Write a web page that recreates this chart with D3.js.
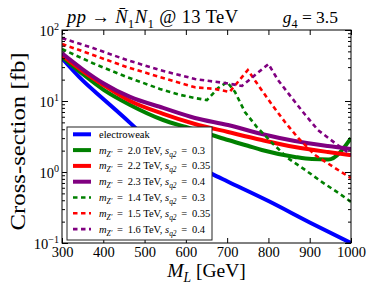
<!DOCTYPE html>
<html>
<head>
<meta charset="utf-8">
<script src="https://cdn.jsdelivr.net/npm/d3@7"></script>
<style>
body { margin: 0; background: #fff; }
svg text { font-family: "Liberation Serif", "DejaVu Serif", serif; fill: #000; }
</style>
</head>
<body>
<div id="chart"></div>
<script>
// cross-section [fb] vs M_L [GeV]
var electroweak = [[300,40],[350,19.5],[400,10.7],[450,5.9],[500,3.25],[550,2.15],[600,1.46],[663,0.94],[700,0.74],[800,0.39],[900,0.195],[1000,0.1]];
var green2000 = [[300,42],[350,24],[400,14.5],[465,8.8],[545,5.4],[600,4.3],[663,3.32],[702,2.82],[750,2.34],[784,2.04],[864,1.63],[905,1.52],[945,1.5],[1000,3.0]];
var red2200 = [[300,44],[350,26.3],[400,16.8],[465,10],[545,6.6],[622,4.75],[702,3.66],[784,2.82],[864,2.25],[944,1.91],[1000,1.73]];
var purple2300 = [[300,47],[350,28],[400,17.8],[465,11.4],[545,8.0],[622,5.77],[702,4.59],[784,3.43],[864,2.73],[944,2.32],[1000,2.11]];
var green1400 = [[300,54],[375,34],[457,21.8],[537,14.8],[586,12.2],[622,11.0],[651,10.3],[678,15.2],[700,18.5],[719,13.4],[743,7.0],[772,4.3],[809,2.56],[847,1.57],[889,1.07],[930,0.72],[969,0.51],[1000,0.38]];
var red1500 = [[300,63.5],[375,44.5],[457,30],[537,21.8],[622,15.6],[670,14.8],[706,13.4],[750,27.3],[775,16.8],[809,8.8],[840,5.06],[872,3.01],[913,1.73],[961,1.14],[1000,0.82]];
var purple1600 = [[300,77],[375,55.7],[457,37.8],[537,27.3],[622,20.4],[658,19.1],[695,17.9],[736,16.3],[800,33.2],[823,19.8],[857,11.0],[889,6.4],[920,3.9],[961,2.56],[1000,1.75]];

var mZ = ["2.0", "2.2", "2.3", "1.4", "1.5", "1.6"];
var sq2 = ["0.3", "0.35", "0.4", "0.3", "0.35", "0.4"];
var xTicks = [300, 400, 500, 600, 700, 800, 900, 1000];
var yDecades = [-1, 0, 1, 2];

var series = [
    {data: electroweak, color: "#0000ff", dash: null},
    {data: green2000, color: "#008000", dash: null},
    {data: red2200, color: "#ff0000", dash: null},
    {data: purple2300, color: "#800080", dash: null},
    {data: green1400, color: "#008000", dash: "4.5,3.5"},
    {data: red1500, color: "#ff0000", dash: "4.5,3.5"},
    {data: purple1600, color: "#800080", dash: "4.5,3.5"}
];

var W = 390, H = 293;
var pLeft = 62, pRight = 351, pTop = 30, pBottom = 243;

var svg = d3.select("#chart").append("svg").attr("width", W).attr("height", H);

var x = d3.scaleLinear().domain([300, 1000]).range([pLeft, pRight]);
var y = d3.scaleLog().domain([0.1, 100]).range([pBottom, pTop]);

svg.append("clipPath").attr("id", "plotclip")
    .append("rect").attr("x", pLeft).attr("y", pTop)
    .attr("width", pRight - pLeft).attr("height", pBottom - pTop);

// put math-ish text together out of runs
function addRuns(t, runs, fs) {
    var shift = 0;
    runs.forEach(function(r) {
        var ts = t.append("tspan").text(r.t);
        var target = r.sub ? fs * 0.28 : (r.sup ? -fs * 0.42 : 0);
        ts.attr("dy", target - shift);
        shift = target;
        if (r.sub || r.sup) ts.attr("font-size", fs * 0.7);
        if (r.it) ts.attr("font-style", "italic");
    });
}

// curves
var line = d3.line()
    .x(function(d) { return x(d[0]); })
    .y(function(d) { return y(d[1]); });

var lines = svg.append("g").attr("clip-path", "url(#plotclip)");
series.forEach(function(s) {
    lines.append("path")
        .datum(s.data)
        .attr("fill", "none")
        .attr("stroke", s.color)
        .attr("stroke-width", s.dash ? 2.6 : 4)
        .attr("stroke-dasharray", s.dash)
        .attr("d", line.curve(s.dash ? d3.curveLinear : d3.curveMonotoneX));
});

// ticks (inward, all four sides)
var minorVals = [];
[-1, 0, 1].forEach(function(k) {
    for (var m = 1; m < 10; m++) minorVals.push(m * Math.pow(10, k));
});
minorVals.push(100);
function isMajor(v) { return Math.abs(Math.log10(v) - Math.round(Math.log10(v))) < 1e-9; }

svg.append("g").attr("transform", "translate(0," + pBottom + ")")
    .call(d3.axisBottom(x).tickValues(xTicks).tickSizeInner(-5).tickSizeOuter(0).tickPadding(4).tickFormat(d3.format("d")))
    .call(function(g) {
        g.select(".domain").remove();
        g.selectAll("text").attr("font-size", 14.5);
    });
svg.append("g").attr("transform", "translate(0," + pTop + ")")
    .call(d3.axisTop(x).tickValues(xTicks).tickSizeInner(-5).tickSizeOuter(0).tickFormat(""))
    .call(function(g) { g.select(".domain").remove(); });

svg.append("g").attr("transform", "translate(" + pLeft + ",0)")
    .call(d3.axisLeft(y).tickValues(minorVals).tickSizeOuter(0).tickFormat(""))
    .call(function(g) {
        g.select(".domain").remove();
        g.selectAll(".tick line").attr("x2", function(d) { return isMajor(d) ? 6 : 3; });
    });
svg.append("g").attr("transform", "translate(" + pRight + ",0)")
    .call(d3.axisRight(y).tickValues(minorVals).tickSizeOuter(0).tickFormat(""))
    .call(function(g) {
        g.select(".domain").remove();
        g.selectAll(".tick line").attr("x2", function(d) { return isMajor(d) ? -6 : -3; });
    });

// y labels 10^k
yDecades.forEach(function(k) {
    var t = svg.append("text")
        .attr("x", pLeft - 3)
        .attr("y", y(Math.pow(10, k)) + 6)
        .attr("text-anchor", "end")
        .attr("font-size", 14.5);
    addRuns(t, [{t: "10"}, {t: k < 0 ? "\u2212" + (-k) : String(k), sup: true}], 14.5);
});

// frame
svg.append("rect").attr("x", pLeft).attr("y", pTop)
    .attr("width", pRight - pLeft).attr("height", pBottom - pTop)
    .attr("fill", "none").attr("stroke", "#000").attr("stroke-width", 1);

// legend
var lg = svg.append("g");
lg.append("rect").attr("x", 67).attr("y", 127).attr("width", 145).attr("height", 113)
    .attr("fill", "#fff").attr("stroke", "#222").attr("stroke-width", 1);
series.forEach(function(s, i) {
    var ry = 134.3 + i * 15.8;
    lg.append("line").attr("x1", 73).attr("x2", 91).attr("y1", ry).attr("y2", ry)
        .attr("stroke", s.color).attr("stroke-width", s.dash ? 2.6 : 4)
        .attr("stroke-dasharray", s.dash);
    var t = lg.append("text").attr("x", 99).attr("y", ry + 3.5).attr("font-size", 10.5);
    if (i === 0) {
        t.text("electroweak");
    } else {
        addRuns(t, [
            {t: "m", it: true}, {t: "Z\u2032", it: true, sub: true},
            {t: "\u00a0\u2009=\u2009\u00a0" + mZ[i - 1] + " TeV, "},
            {t: "s", it: true}, {t: "q2", it: true, sub: true},
            {t: "\u00a0\u2009=\u2009\u00a0" + sq2[i - 1]}
        ], 10.5);
    }
});

// title
var tt = svg.append("text").attr("x", 67).attr("y", 23).attr("font-size", 18.5);
addRuns(tt, [
    {t: "pp", it: true}, {t: " \u2192 "},
    {t: "N\u0304", it: true}, {t: "1", sub: true},
    {t: "N", it: true}, {t: "1", sub: true},
    {t: " @ 13 TeV"}
], 18.5);
tt.attr("textLength", 171).attr("lengthAdjust", "spacing");
var tg = svg.append("text").attr("x", 338).attr("y", 23).attr("font-size", 17.5).attr("text-anchor", "end");
addRuns(tg, [{t: "g", it: true}, {t: "4", sub: true}, {t: " = 3.5"}], 17.5);

// axis titles
var xl = svg.append("text").attr("x", (pLeft + pRight) / 2).attr("y", 277)
    .attr("text-anchor", "middle").attr("font-size", 19.5);
addRuns(xl, [{t: "M", it: true}, {t: "L", it: true, sub: true}, {t: " [GeV]"}], 19.5);

svg.append("text")
    .attr("transform", "translate(25," + ((pTop + pBottom) / 2 + 5) + ") rotate(-90)")
    .attr("text-anchor", "middle")
    .attr("font-size", 22)
    .attr("textLength", 178)
    .attr("lengthAdjust", "spacingAndGlyphs")
    .text("Cross-section [fb]");
</script>
</body>
</html>
